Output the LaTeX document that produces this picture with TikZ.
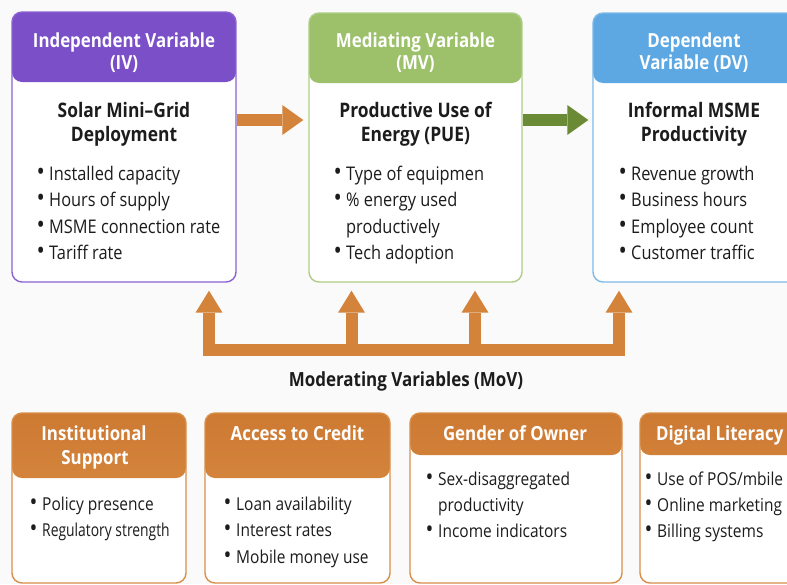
\documentclass[tikz,border=0pt]{standalone}
\usepackage{fontspec}
\setmainfont{Open Sans}[FakeStretch=0.87]
\usetikzlibrary{arrows.meta}

\definecolor{bg}{HTML}{FAFAFA}
\definecolor{ink}{HTML}{1C1C1C}
\definecolor{ivhead}{HTML}{7B4FC8}
\definecolor{ivline}{HTML}{8B62D2}
\definecolor{mvhead}{HTML}{9CC16A}
\definecolor{mvline}{HTML}{AECE86}
\definecolor{dvhead}{HTML}{5DA8E2}
\definecolor{dvline}{HTML}{7DBAE8}
\definecolor{otop}{HTML}{CD7A33}
\definecolor{obot}{HTML}{DF9349}
\definecolor{oline}{HTML}{D98F4A}
\definecolor{oarrow}{HTML}{D4833A}
\definecolor{garrow}{HTML}{6B8A35}

\newcommand\bul{\makebox[12.5pt][l]{\raisebox{-0.4pt}{\scalebox{1.35}{•}}}}
\newcommand\cont{\makebox[12.5pt][l]{}}

\begin{document}
\begin{tikzpicture}[x=1pt,y=-1pt,
  card/.style n args={3}{draw=#1, line width=1.4pt, fill=white,
    rounded corners=10pt, inner sep=0pt,
    path picture={\fill[#2] (path picture bounding box.north west)
      rectangle ([yshift=-#3]path picture bounding box.north east);}},
  ocard/.style={draw=oline, line width=1.4pt, fill=white,
    rounded corners=10pt, inner sep=0pt,
    path picture={\shade[top color=otop, bottom color=obot]
      (path picture bounding box.north west)
      rectangle ([yshift=-#1]path picture bounding box.north east);}},
  hd/.style={text=white, font=\bfseries\fontsize{19.4}{24}\selectfont,
    anchor=base, inner sep=0pt},
  ttl/.style={text=ink, font=\bfseries\fontsize{20}{24}\selectfont,
    anchor=base, inner sep=0pt},
  itm/.style={text=ink, font=\fontsize{18.8}{22}\selectfont,
    anchor=base west, inner sep=0pt},
  itms/.style={itm, font=\fontsize{17.8}{21}\selectfont},
  fatarrow/.style={draw=#1, line width=12pt,
    -{Triangle[length=21pt, width=30pt, line width=0pt, fill=#1]}},
  modarrow/.style={draw=oarrow, line width=12pt,
    -{Triangle[length=22pt, width=27pt, line width=0pt, fill=oarrow]}},
  modbar/.style={draw=oarrow, line width=12pt},
]
\useasboundingbox (0,0) rectangle (787,584);
\fill[bg] (0,0) rectangle (787,584);
\clip (0,0) rectangle (787,584);

% ---------- main path: IV -> MV -> DV ----------
\node[card={ivline}{ivhead}{70pt}, minimum width=224pt, minimum height=270pt] (iv) at (124,147) {};
\node[card={mvline}{mvhead}{70pt}, minimum width=213pt, minimum height=269pt] (mv) at (415.5,147.5) {};
\node[card={dvline}{dvhead}{70pt}, minimum width=204pt, minimum height=269pt] (dv) at (695,147.5) {};

\node[hd] (iv-h1) at (124,47.5) {Independent Variable};
\node[hd] (iv-h2) at (124,69.5) {(IV)};
\node[ttl] (iv-t1) at (124,117) {Solar Mini–Grid};
\node[ttl] (iv-t2) at (124,141) {Deployment};
\foreach \t [count=\i] in {Installed capacity, Hours of supply, MSME connection rate, Tariff rate}
  \node[itm] (iv-b\i) at (36.5,{180+26.5*(\i-1)}) {\bul\t};

\node[hd] (mv-h1) at (415.5,47.5) {Mediating Variable};
\node[hd] (mv-h2) at (415.5,69.5) {(MV)};
\node[ttl] (mv-t1) at (415.5,117) {Productive Use of};
\node[ttl] (mv-t2) at (415.5,141) {Energy (PUE)};
\foreach \t [count=\i] in {\bul Type of equipmen, \bul\% energy used, \cont productively, \bul Tech adoption}
  \node[itm] (mv-b\i) at (333.5,{180+26.5*(\i-1)}) {\t};

\node[hd] (dv-h1) at (694,47.5) {Dependent};
\node[hd] (dv-h2) at (694,69.5) {Variable (DV)};
\node[ttl] (dv-t1) at (694,117) {Informal MSME};
\node[ttl] (dv-t2) at (694,141) {Productivity};
\foreach \t [count=\i] in {Revenue growth, Business hours, Employee count, Customer traffic}
  \node[itm] (dv-b\i) at (618.5,{180+26.5*(\i-1)}) {\bul\t};

\coordinate (flow) at (0,120);
\draw[fatarrow=oarrow, shorten >=5pt] (iv.east |- flow) -- (mv.west |- flow);
\draw[fatarrow=garrow, shorten >=4pt] (mv.east |- flow) -- (dv.west |- flow);

% ---------- moderating connectors ----------
\coordinate (barL) at (203,349.5);
\coordinate (barR) at (625,349.5);
\coordinate (m1) at (209,355.5);
\coordinate (m2) at (351.5,355.5);
\coordinate (m3) at (475,355.5);
\coordinate (m4) at (619,355.5);
\draw[modbar] (barL) -- (barR);
\draw[modarrow, shorten >=8pt] (m1) -- (m1 |- iv.south);
\draw[modarrow, shorten >=8pt] (m2) -- (m2 |- mv.south);
\draw[modarrow, shorten >=8pt] (m3) -- (m3 |- mv.south);
\draw[modarrow, shorten >=8pt] (m4) -- (m4 |- dv.south);

\node[ttl, font=\bfseries\fontsize{19.5}{24}\selectfont] (mov) at (406,386) {Moderating Variables (MoV)};

% ---------- moderating variables ----------
\node[ocard=65pt, minimum width=174pt, minimum height=170pt] (inst) at (99,498) {};
\node[ocard=65pt, minimum width=185pt, minimum height=170pt] (cred) at (297.5,498) {};
\node[ocard=42pt, minimum width=212pt, minimum height=170pt] (gend) at (516,498) {};
\node[ocard=42pt, minimum width=160pt, minimum height=170pt] (digi) at (720,498) {};

\node[hd] (inst-h1) at (94,440.5) {Institutional};
\node[hd] (inst-h2) at (95,464.5) {Support};
\foreach \t [count=\i] in {Policy presence, {\addfontfeature{FakeStretch=0.78}Regulatory strength}}
  \node[itms] (inst-b\i) at (29.5,{510+26.5*(\i-1)}) {\bul\t};

\node[hd] (cred-h1) at (297.5,440.5) {Access to Credit};
\foreach \t [count=\i] in {Loan availability, Interest rates, Mobile money use}
  \node[itms] (cred-b\i) at (223.5,{510+26.5*(\i-1)}) {\bul\t};

\node[hd] (gend-h1) at (515,440.5) {Gender of Owner};
\foreach \t [count=\i] in {\bul Sex-disaggregated, \cont productivity, \bul Income indicators}
  \node[itms] (gend-b\i) at (425.5,{485+26*(\i-1)}) {\t};

\node[hd, anchor=base west] (digi-h1) at (656,440.5) {Digital Literacy};
\foreach \t [count=\i] in {Use of POS/mbile, Online marketing, Billing systems}
  \node[itms] (digi-b\i) at (644.5,{485+26*(\i-1)}) {\bul\t};
\end{tikzpicture}
\end{document}
